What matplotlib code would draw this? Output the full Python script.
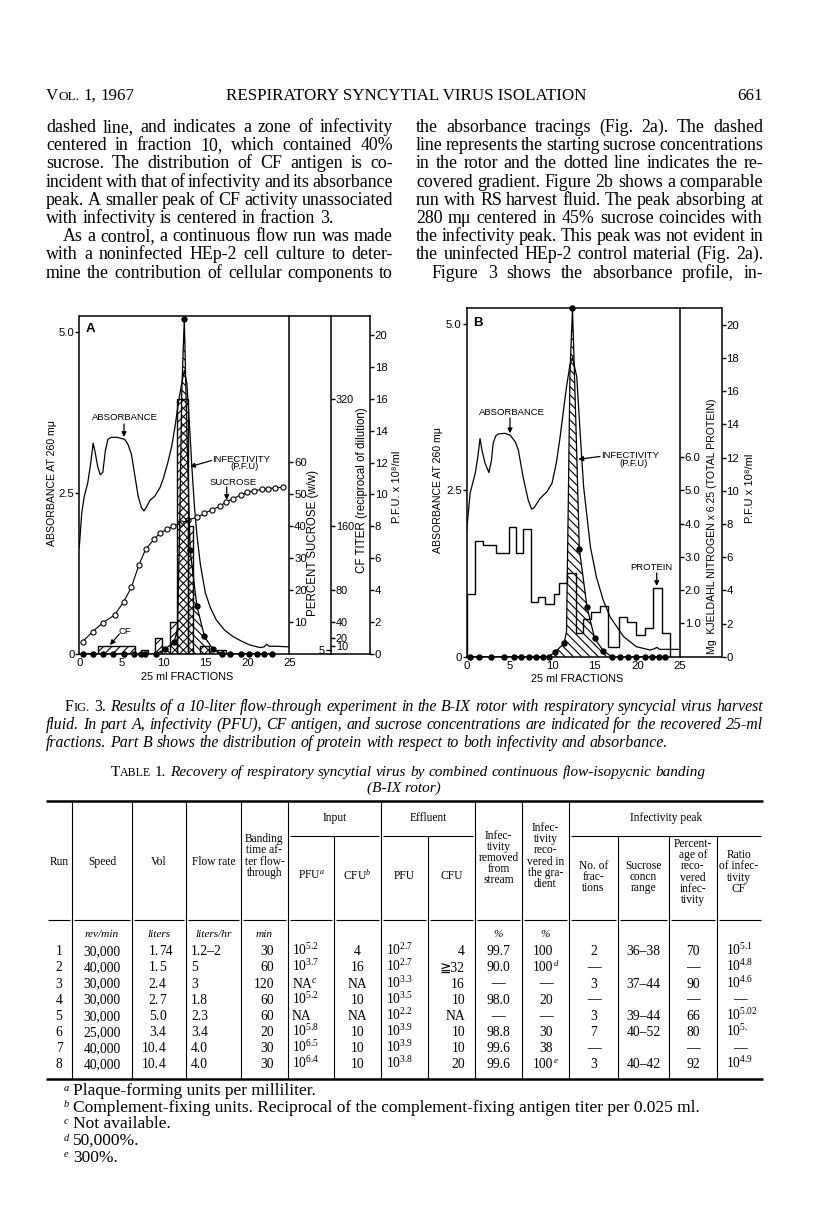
import matplotlib
matplotlib.use('Agg')
import matplotlib.pyplot as plt
from matplotlib.lines import Line2D

plt.rcParams['font.family'] = ['Liberation Serif', 'DejaVu Serif', 'DejaVu Sans', 'Noto Sans CJK JP']
plt.rcParams['mathtext.fontset'] = 'custom'
plt.rcParams['mathtext.rm'] = 'Liberation Serif'
plt.rcParams['mathtext.it'] = 'Liberation Serif:italic'
plt.rcParams['mathtext.bf'] = 'Liberation Serif:bold'
plt.rcParams['hatch.linewidth'] = 0.8
SERIF = ['Liberation Serif', 'DejaVu Serif', 'DejaVu Sans', 'Noto Sans CJK JP']
SANS = ['Liberation Sans', 'DejaVu Sans']

# ======================= DATA =======================
frac_ticks = [0, 5, 10, 15, 20, 25]
abs_ticks = [0, 2.5, 5.0]
abs_ticklabels = ['0', '2.5', '5.0']
pfu_ticks = [0, 2, 4, 6, 8, 10, 12, 14, 16, 18, 20]
sucrose_ticks = [10, 20, 30, 40, 50, 60]
cf_ticks = [10, 20, 40, 80, 160, 320]
protein_ticks = [1.0, 2.0, 3.0, 4.0, 5.0, 6.0]
protein_ticklabels = ['1.0', '2.0', '3.0', '4.0', '5.0', '6.0']

# ---- Panel A ----
absA_x = [0, 0.3, 0.6, 1.0, 1.35, 1.65, 1.9, 2.2, 2.5, 2.8, 3.1, 3.4, 3.8, 4.5, 5.4, 5.8,
          6.2, 6.6, 7.0, 7.4, 7.7, 8.0, 8.4, 9.0, 9.6, 10.0, 10.5, 11.0, 11.4, 11.8, 12.2,
          12.5, 12.8, 13.1, 13.4, 13.7, 14.0, 14.4, 15.0, 15.6, 16.3, 17.3, 18.3, 19.3,
          20.3, 21.5, 22.0, 22.3, 22.6, 23.5, 25.0]
absA_y = [1.66, 2.2, 2.45, 2.65, 2.95, 3.27, 3.12, 2.9, 2.78, 2.82, 3.15, 3.33, 3.36, 3.36,
          3.33, 3.25, 3.1, 2.78, 2.45, 2.27, 2.22, 2.28, 2.38, 2.45, 2.58, 2.72, 2.95, 3.22,
          3.53, 3.9, 4.2, 4.4, 4.2, 3.6, 2.9, 2.3, 1.85, 1.4, 0.95, 0.72, 0.53, 0.37, 0.27,
          0.2, 0.14, 0.1, 0.11, 0.15, 0.12, 0.12, 0.11]

sucA_x = [0.4, 1.6, 2.8, 4.2, 5.3, 6.2, 7.1, 7.9, 8.9, 9.6, 10.4, 11.2, 12.1, 13.0, 14.0,
          14.9, 15.8, 16.7, 17.5, 18.3, 19.2, 20.0, 20.8, 21.7, 22.5, 23.3, 24.2]
sucA_y = [3.9, 7.0, 9.8, 12.2, 16.4, 20.9, 27.9, 32.8, 35.9, 37.8, 39.0, 40.1, 40.9, 42.0,
          42.8, 44.0, 45.2, 46.2, 47.6, 48.6, 49.8, 50.6, 51.1, 51.5, 51.8, 52.0, 52.2]

infA_line_x = [0.4, 1.6, 2.8, 4.0, 5.3, 6.5, 7.3, 7.8, 9.1, 10.2, 11.3, 11.7, 11.95, 12.2,
               12.5, 12.85, 13.2, 14.0, 14.9, 15.9, 17.0, 18.0, 19.2, 20.2, 21.2, 22.0, 23.0]
infA_line_y = [0, 0, 0, 0, 0, 0, 0, 0, 0, 0.3, 0.77, 1.6, 8.0, 16.5,
               21.0, 13.0, 6.5, 3.0, 1.1, 0.3, 0, 0, 0, 0, 0, 0, 0]
infA_dot_x = [0.4, 1.6, 2.8, 4.0, 5.3, 6.5, 7.3, 7.8, 9.1, 10.2, 11.3, 12.5, 13.2, 14.0,
              14.9, 15.9, 17.0, 18.0, 19.2, 20.2, 21.2, 22.0, 23.0]
infA_dot_y = [0, 0, 0, 0, 0, 0, 0, 0, 0, 0.3, 0.77, 21.0, 6.5, 3.0,
              1.1, 0.3, 0, 0, 0, 0, 0, 0, 0]

cfA_left = [2.2, 7.4, 9.0, 10.8, 11.6, 13.0, 14.4, 16.4]
cfA_width = [4.4, 0.8, 0.9, 0.8, 1.4, 0.5, 1.0, 1.1]
cfA_titer = [10, 5, 20, 40, 320, 160, 10, 5]

# ---- Panel B ----
absB_x = [0, 0.4, 1.0, 1.3, 1.56, 1.8, 2.15, 2.6, 2.9, 3.1, 3.4, 3.7, 4.5, 5.1, 5.7, 6.05,
          6.6, 7.2, 7.6, 7.9, 8.6, 9.4, 10.0, 10.5, 10.9, 11.3, 11.7, 12.1, 12.4, 12.9,
          13.3, 13.7, 14.5, 15.2, 16.0, 16.8, 18.4, 19.9, 21.5, 22.0, 22.3, 22.6, 23.0, 25.0]
absB_y = [1.9, 2.46, 2.76, 3.0, 3.28, 3.1, 2.91, 2.77, 2.95, 3.21, 3.32, 3.35, 3.36, 3.33,
          3.23, 3.11, 2.71, 2.36, 2.22, 2.24, 2.38, 2.48, 2.61, 2.91, 3.26, 3.66, 4.06, 4.39,
          4.5, 4.21, 3.36, 2.56, 1.65, 1.2, 0.85, 0.6, 0.3, 0.15, 0.1, 0.12, 0.14, 0.11,
          0.11, 0.11]

infB_line_x = [0.4, 1.5, 2.9, 4.4, 5.5, 6.4, 7.3, 8.1, 8.9, 9.6, 10.4, 11.4, 11.7, 11.9,
               12.1, 12.4, 12.8, 13.2, 14.1, 15.0, 16.0, 17.0, 18.0, 18.9, 19.9, 20.9,
               21.7, 22.5, 23.2]
infB_line_y = [0, 0, 0, 0, 0, 0, 0, 0, 0, 0, 0.3, 0.8, 1.5, 9.0,
               17.0, 21.0, 14.0, 6.5, 3.0, 1.1, 0.36, 0, 0, 0, 0, 0,
               0, 0, 0]
infB_dot_x = [0.4, 1.5, 2.9, 4.4, 5.5, 6.4, 7.3, 8.1, 8.9, 9.6, 10.4, 11.4, 12.4, 13.2,
              14.1, 15.0, 16.0, 17.0, 18.0, 18.9, 19.9, 20.9, 21.7, 22.5, 23.2]
infB_dot_y = [0, 0, 0, 0, 0, 0, 0, 0, 0, 0, 0.3, 0.8, 21.0, 6.5,
              3.0, 1.1, 0.36, 0, 0, 0, 0, 0, 0, 0, 0]

protB_edges = [0, 1.0, 1.95, 3.4, 4.9, 5.8, 6.6, 7.5, 8.4, 9.2, 10.2, 10.8, 11.8, 12.8,
               13.6, 14.6, 15.6, 16.6, 17.9, 18.8, 19.8, 20.9, 21.8, 22.9, 23.8]
protB_values = [1.9, 3.49, 3.36, 3.13, 3.91, 3.13, 3.85, 1.65, 1.8, 1.6, 1.89, 2.23, 2.51,
                0.72, 1.12, 1.35, 1.52, 0.3, 1.18, 1.05, 0.65, 0.85, 2.06, 0.72]

# ---- Table 1 ----
t_run = ['1', '2', '3', '4', '5', '6', '7', '8']
t_speed = ['30,000', '40,000', '30,000', '30,000', '30,000', '25,000', '40,000', '40,000']
t_vol = ['1.74', '1.5', '2.4', '2.7', '5.0', '3.4', '10.4', '10.4']
t_flow = ['1.2–2', '5', '3', '1.8', '2.3', '3.4', '4.0', '4.0']
t_band = ['30', '60', '120', '60', '60', '20', '30', '30']
t_in_pfu = ['10$^{5.2}$', '10$^{3.7}$', 'NA$^{c}$', '10$^{5.2}$', 'NA', '10$^{5.8}$',
            '10$^{6.5}$', '10$^{6.4}$']
t_in_cfu = ['4', '16', 'NA', '10', 'NA', '10', '10', '10']
t_ef_pfu = ['10$^{2.7}$', '10$^{2.7}$', '10$^{3.3}$', '10$^{3.5}$', '10$^{2.2}$',
            '10$^{3.9}$', '10$^{3.9}$', '10$^{3.8}$']
t_ef_cfu = ['4', '≧32', '16', '10', 'NA', '10', '10', '20']
t_removed = ['99.7', '90.0', '—', '98.0', '—', '98.8', '99.6', '99.6']
t_recovered = ['100', '100', '—', '20', '—', '30', '38', '100']
t_recovered_note = ['', 'd', '', '', '', '', '', 'e']
t_nfrac = ['2', '—', '3', '—', '3', '7', '—', '3']
t_sucrose = ['36–38', '', '37–44', '', '39–44', '40–52', '', '40–42']
t_percent = ['70', '—', '90', '—', '66', '80', '—', '92']
t_ratio = ['10$^{5.1}$', '10$^{4.8}$', '10$^{4.6}$', '—', '10$^{5.02}$', '10$^{5.}$', '—',
           '10$^{4.9}$']

left_col = [
    "dashed line, and indicates a zone of infectivity",
    "centered in fraction 10, which contained 40%",
    "sucrose. The distribution of CF antigen is co-",
    "incident with that of infectivity and its absorbance",
    "peak. A smaller peak of CF activity unassociated",
    "with infectivity is centered in fraction 3.",
    "As a control, a continuous flow run was made",
    "with a noninfected HEp-2 cell culture to deter-",
    "mine the contribution of cellular components to",
]
right_col = [
    "the absorbance tracings (Fig. 2a). The dashed",
    "line represents the starting sucrose concentrations",
    "in the rotor and the dotted line indicates the re-",
    "covered gradient. Figure 2b shows a comparable",
    "run with RS harvest fluid. The peak absorbing at",
    "280 mμ centered in 45% sucrose coincides with",
    "the infectivity peak. This peak was not evident in",
    "the uninfected HEp-2 control material (Fig. 2a).",
    "Figure 3 shows the absorbance profile, in-",
]
caption = [
    "Results of a 10-liter flow-through experiment in the B-IX rotor with respiratory syncycial virus harvest",
    "fluid. In part A, infectivity (PFU), CF antigen, and sucrose concentrations are indicated for the recovered 25-ml",
    "fractions. Part B shows the distribution of protein with respect to both infectivity and absorbance.",
]
footnotes = [
    ('a', "Plaque-forming units per milliliter."),
    ('b', "Complement-fixing units. Reciprocal of the complement-fixing antigen titer per 0.025 ml."),
    ('c', "Not available."),
    ('d', "50,000%."),
    ('e', "300%."),
]

# ======================= FIGURE =======================
W, H = 816, 1225
fig = plt.figure(figsize=(W / 100, H / 100), dpi=100)
fig.patch.set_facecolor('white')
R = fig.canvas.get_renderer()


def fy(y):
    return 1 - y / H


def T(x, y, s, **kw):
    kw.setdefault('va', 'baseline')
    return fig.text(x / W, fy(y), s, **kw)


def tw(t):
    return t.get_window_extent(R).width


def measure(s, **kw):
    t = fig.text(0, 0, s, **kw)
    w = tw(t)
    t.remove()
    return w


def space_width(kw):
    return measure('n n', **kw) - measure('nn', **kw)


def make_group(w, base_kw):
    if isinstance(w, str):
        w = [(w, {})]
    out = []
    for s, kw in w:
        k = dict(base_kw)
        k.update(kw)
        out.append(fig.text(0, 0, s, ha='left', va='baseline', **k))
    return out


def place_line(words, x0, y, base_kw, x1=None, center=None):
    groups = [make_group(w, base_kw) for w in words]
    widths = [sum(tw(t) for t in g) for g in groups]
    if x1 is not None and len(groups) > 1:
        gap = (x1 - x0 - sum(widths)) / (len(groups) - 1)
    else:
        gap = space_width(base_kw)
    total = sum(widths) + gap * (len(groups) - 1)
    if center is not None:
        x0 = center - total / 2
    x = x0
    for g, w in zip(groups, widths):
        xx = x
        for t in g:
            t.set_position((xx / W, fy(y)))
            xx += tw(t)
        x += w + gap


def hline(x0, x1, y, lw=1.0):
    fig.add_artist(Line2D([x0 / W, x1 / W], [fy(y)] * 2, color='k', lw=lw,
                          solid_capstyle='butt'))


def vline(x, y0, y1, lw=1.0):
    fig.add_artist(Line2D([x / W] * 2, [fy(y0), fy(y1)], color='k', lw=lw,
                          solid_capstyle='butt'))


def arrow(x0, y0, x1, y1):
    fig.add_artist(matplotlib.patches.FancyArrowPatch(
        (x0 / W, fy(y0)), (x1 / W, fy(y1)), transform=fig.transFigure,
        arrowstyle='-|>', mutation_scale=7, lw=0.9, color='k',
        shrinkA=0, shrinkB=0))


# ---------------- running head + body text ----------------
hs = 10.5 * 362 / measure('RESPIRATORY SYNCYTIAL VIRUS ISOLATION', size=10.5, family=SERIF)
base = dict(family=SERIF, size=hs)
place_line([[('V', {}), ('OL.', {'size': hs * 0.78})], '1,', '1967'], 46, 100, base)
T(406, 100, 'RESPIRATORY SYNCYTIAL VIRUS ISOLATION', ha='center', family=SERIF, size=hs)
T(763, 100, '661', ha='right', family=SERIF, size=hs)

bs = 10.5 * 286 / measure(left_col[5], size=10.5, family=SERIF)
for col, (c0, c1) in ((left_col, (46, 393)), (right_col, (416, 763))):
    for ln in col:
        n = len(ln.split())
        nat = measure(ln.replace(' ', ''), size=bs, family=SERIF)
        if nat > (c1 - c0) - 2.5 * (n - 1):
            bs = bs * ((c1 - c0) - 2.5 * (n - 1)) / nat
body = dict(family=SERIF, size=bs)
B0, BS = 132, 18.2
for i, ln in enumerate(left_col):
    y = B0 + BS * i
    x0 = 63 if i == 6 else 46
    if i == 5:
        place_line(ln.split(), x0, y, body)
    else:
        place_line(ln.split(), x0, y, body, x1=393)
for i, ln in enumerate(right_col):
    y = B0 + BS * i
    x0 = 432 if i == 8 else 416
    place_line(ln.split(), x0, y, body, x1=763)


# ---------------- chart helpers ----------------
def px_axes(l, r, t, b):
    return fig.add_axes([l / W, 1 - b / H, (r - l) / W, (b - t) / H])


TICK = dict(family=SANS, size=8.2)


def style_main(ax, top):
    ax.set_xlim(0, 25)
    ax.set_ylim(0, top)
    ax.patch.set_visible(False)
    ax.spines['top'].set_visible(False)
    ax.spines['right'].set_visible(False)
    for s in ('left', 'bottom'):
        ax.spines[s].set_linewidth(1.1)
    ax.set_xticks(frac_ticks)
    ax.set_xticklabels([str(v) for v in frac_ticks], fontdict=TICK)
    ax.tick_params(axis='x', length=0, pad=3)
    ax.set_yticks(abs_ticks)
    ax.set_yticklabels(abs_ticklabels, fontdict=TICK)
    ax.tick_params(axis='y', length=3, width=1, pad=0.5)


def style_twin(t, pos, top, ticks, labels, size=8.2):
    for s in ('left', 'top', 'bottom'):
        t.spines[s].set_visible(False)
    t.spines['right'].set_position(('axes', pos))
    t.spines['right'].set_linewidth(1.1)
    t.set_ylim(0, top)
    t.set_yticks(ticks)
    t.set_yticklabels(labels, fontdict=dict(family=SANS, size=size))
    t.tick_params(axis='y', length=3, width=1, pad=0.5)


DOT = 3.6

# ---------------- Panel A ----------------
aL, aR, aT, aB = 79.3, 289.3, 315.7, 654.0
axA = px_axes(aL, aR, aT, aB)
style_main(axA, 5.247)
axA.plot(absA_x, absA_y, color='k', lw=0.9)

sucA = axA.twinx()
style_twin(sucA, 1.0, 105.9, sucrose_ticks, [str(v) for v in sucrose_ticks])
sucA.plot(sucA_x, sucA_y, '-o', color='k', lw=0.8, ms=3.7, mfc='white', mew=0.8)

cfA = axA.twinx()
style_twin(cfA, (331.0 - aL) / (aR - aL), 424.0, cf_ticks, [str(v) for v in cf_ticks], size=7.8)
cfA.bar(cfA_left, cfA_titer, width=cfA_width, align='edge', facecolor='none',
        edgecolor='k', hatch='////', linewidth=1.0)

pfuA = axA.twinx()
style_twin(pfuA, (370.0 - aL) / (aR - aL), 21.2, pfu_ticks, [str(v) for v in pfu_ticks])
pfuA.fill_between(infA_line_x, infA_line_y, 0, facecolor='none', edgecolor='k',
                  hatch='\\\\\\\\', linewidth=0)
pfuA.plot(infA_line_x, infA_line_y, color='k', lw=0.9)
pfuA.plot(infA_dot_x, infA_dot_y, 'o', color='k', ms=DOT, clip_on=False)

hline(aL - 0.5, 370.5, aT, lw=1.1)
hline(aR, 370.5, aB, lw=1.1)
T(325, 650 + 3.5, '5', ha='right', family=SANS, size=7.8)
hline(326, 331, 650, lw=1.0)

T(51.7, 483, 'ABSORBANCE AT 260 mμ', rotation=90, ha='center', va='center', family=SANS, size=7.6)
T(313.3, 542.7, 'PERCENT SUCROSE (w/w)', rotation=90, ha='center', va='center', family=SANS, size=8.3)
T(361.7, 490, 'CF TITER (reciprocal of dilution)', rotation=90, ha='center', va='center',
  family=SANS, size=8.3)
T(396.7, 487, 'P.F.U. x 10⁸/ml', rotation=90, ha='center', va='center', family=SANS, size=8.0)
T(186.7, 680.5, '25 ml FRACTIONS', ha='center', family=SANS, size=7.8)
T(90.3, 331.5, 'A', ha='center', family=SANS, size=9.5, weight='bold')

ann = dict(family=SANS, size=6.8)
T(125, 420.5, 'ABSORBANCE', ha='center', **ann)
arrow(124, 424, 124, 437)
T(212.3, 461.5, 'INFECTIVITY', ha='left', **ann)
T(245, 469.5, '(P.F.U)', ha='center', **ann)
arrow(211.5, 460.5, 190, 466.7)
T(233.3, 485, 'SUCROSE', ha='center', **ann)
arrow(226.7, 487, 226.7, 500)
T(125, 633.5, 'CF', ha='center', **ann)
arrow(119.3, 634, 110, 645)

# ---------------- Panel B ----------------
bL, bR, bT, bB = 466.7, 680.0, 308.3, 656.7
axB = px_axes(bL, bR, bT, bB)
style_main(axB, 5.24)
axB.plot(absB_x, absB_y, color='k', lw=0.9)

protB = axB.twinx()
style_twin(protB, 1.0, 10.48, protein_ticks, protein_ticklabels)
protB.stairs(protB_values, protB_edges, baseline=0, color='k', lw=1.0)

pfuB = axB.twinx()
style_twin(pfuB, (721.7 - bL) / (bR - bL), 21.0, pfu_ticks, [str(v) for v in pfu_ticks])
pfuB.fill_between(infB_line_x, infB_line_y, 0, facecolor='none', edgecolor='k',
                  hatch='\\\\\\\\', linewidth=0)
pfuB.plot(infB_line_x, infB_line_y, color='k', lw=0.9)
pfuB.plot(infB_dot_x, infB_dot_y, 'o', color='k', ms=DOT, clip_on=False)

hline(bL - 0.5, 722.2, bT, lw=1.1)
hline(bR, 722.2, bB, lw=1.1)

T(438.3, 490, 'ABSORBANCE AT 260 mμ', rotation=90, ha='center', va='center', family=SANS, size=7.6)
T(711.7, 526.7, 'Mg  KJELDAHL NITROGEN x 6.25 (TOTAL PROTEIN)', rotation=90, ha='center',
  va='center', family=SANS, size=7.6)
T(750, 488.3, 'P.F.U x 10⁸/ml', rotation=90, ha='center', va='center', family=SANS, size=8.0)
T(576.7, 682, '25 ml FRACTIONS', ha='center', family=SANS, size=7.8)
T(478.3, 326, 'B', ha='center', family=SANS, size=9.5, weight='bold')

T(511.7, 414.5, 'ABSORBANCE', ha='center', **ann)
arrow(510, 418, 510, 433.3)
T(600.7, 457.5, 'INFECTIVITY', ha='left', **ann)
T(633.3, 466, '(P.F.U)', ha='center', **ann)
arrow(600, 456.5, 578.3, 459.3)
T(651.7, 570, 'PROTEIN', ha='center', **ann)
arrow(656.7, 573, 656.7, 586)

# ---------------- Figure caption ----------------
cs = 10.5 * 626 / measure(caption[2], size=10.5, family=SERIF, style='italic')
cap_kw = dict(family=SERIF, size=cs, style='italic')
up = {'style': 'normal'}
words1 = [[('F', up), ('IG.', {'style': 'normal', 'size': cs * 0.78})], [('3.', up)]] + caption[0].split()
place_line(words1, 65, 711, cap_kw, x1=763)
place_line(caption[1].split(), 46, 729, cap_kw, x1=763)
place_line(caption[2].split(), 46, 747, cap_kw)

# ---------------- Table title ----------------
title_txt = "Recovery of respiratory syncytial virus by combined continuous flow-isopycnic banding"
ts = 10.5 * 540 / measure(title_txt, size=10.5, family=SERIF, style='italic')
tt_kw = dict(family=SERIF, size=ts, style='italic')
tw1 = [[('T', up), ('ABLE', {'style': 'normal', 'size': ts * 0.78})], [('1.', up)]] + title_txt.split()
place_line(tw1, 0, 776, tt_kw, center=408)
T(404, 792, '(B-IX rotor)', ha='center', **tt_kw)

# ---------------- Table ----------------
TL, TR = 46, 763
y_top, y_sub, y_hdr, y_bot = 801, 836, 920, 1079
full_cols = [72, 132, 186, 241, 288, 381, 475, 522, 569]
sub_cols = [334, 428, 618, 669, 717]
hline(TL, TR, y_top, lw=1.8)
hline(TL, TR, y_bot, lw=1.8)
for x in full_cols:
    vline(x, y_top, y_bot, lw=0.8)
for x in sub_cols:
    vline(x, y_sub, y_bot, lw=0.8)
for a, b in ((288, 381), (381, 475), (569, TR)):
    hline(a + 2, b - 2, y_sub, lw=0.8)
bounds = [TL] + sorted(full_cols + sub_cols) + [TR]
for a, b in zip(bounds[:-1], bounds[1:]):
    hline(a + 2, b - 2, y_hdr, lw=0.8)

hdr_kw = dict(family=SERIF, size=8.3)
T(334.5, 821, 'Input', ha='center', **hdr_kw)
T(428, 821, 'Effluent', ha='center', **hdr_kw)
T(666, 821, 'Infectivity peak', ha='center', **hdr_kw)
hdr_cells = [
    (59, 862, ['Run']),
    (102, 862, ['Speed']),
    (159, 862, ['Vol']),
    (213.5, 862, ['Flow rate']),
    (264.5, 856, ['Banding', 'time af-', 'ter flow-', 'through']),
    (311, 876, ['PFU$^{a}$']),
    (357.5, 876, ['CFU$^{b}$']),
    (404.5, 876, ['PFU']),
    (451.5, 876, ['CFU']),
    (498.5, 858, ['Infec-', 'tivity', 'removed', 'from', 'stream']),
    (545.5, 856, ['Infec-', 'tivity', 'reco-', 'vered in', 'the gra-', 'dient']),
    (593.5, 877, ['No. of', 'frac-', 'tions']),
    (643.5, 877, ['Sucrose', 'concn', 'range']),
    (693, 872, ['Percent-', 'age of', 'reco-', 'vered', 'infec-', 'tivity']),
    (739, 872, ['Ratio', 'of infec-', 'tivity', 'CF']),
]
for xc, yc, lines in hdr_cells:
    T(xc, yc, '\n'.join(lines), ha='center', va='center', multialignment='center',
      linespacing=0.9, **hdr_kw)

unit_kw = dict(family=SERIF, size=8.2, style='italic')
for xc, s in ((102, 'rev/min'), (159, 'liters'), (213.5, 'liters/hr'), (264.5, 'min'),
              (498.5, '%'), (545.5, '%')):
    T(xc, 937, s, ha='center', **unit_kw)

row_kw = dict(family=SERIF, size=9.8)
for i in range(len(t_run)):
    y = 951 + 16.1 * i + 4.3
    T(59, y, t_run[i], ha='center', **row_kw)
    T(102, y, t_speed[i], ha='center', **row_kw)
    ip, fp = t_vol[i].split('.')
    T(159, y, ip + '.', ha='right', **row_kw)
    T(159, y, fp, ha='left', **row_kw)
    T(191, y, t_flow[i], ha='left', **row_kw)
    T(274, y, t_band[i], ha='right', **row_kw)
    T(292, y, t_in_pfu[i], ha='left', **row_kw)
    T(357.5, y, t_in_cfu[i], ha='center', **row_kw)
    T(386, y, t_ef_pfu[i], ha='left', **row_kw)
    T(465, y, t_ef_cfu[i], ha='right', **row_kw)
    T(498, y, t_removed[i], ha='center', **row_kw)
    if t_recovered[i] == '—':
        T(545.5, y, t_recovered[i], ha='center', **row_kw)
    else:
        T(553, y, t_recovered[i], ha='right', **row_kw)
        if t_recovered_note[i]:
            T(554, y - 5, t_recovered_note[i], ha='left', family=SERIF, size=6.2, style='italic')
    T(593.5, y, t_nfrac[i], ha='center', **row_kw)
    T(643.5, y, t_sucrose[i], ha='center', **row_kw)
    T(693, y, t_percent[i], ha='center', **row_kw)
    if t_ratio[i] == '—':
        T(740, y, t_ratio[i], ha='center', **row_kw)
    else:
        T(726, y, t_ratio[i], ha='left', **row_kw)

fs = 10.0 * 625 / measure(footnotes[1][1], size=10.0, family=SERIF)
for i, (mark, txt) in enumerate(footnotes):
    y = 1091 + 16.6 * i + 4.3
    T(64, y - 4.5, mark, ha='left', family=SERIF, size=fs * 0.6, style='italic')
    T(73, y, txt, ha='left', family=SERIF, size=fs)

fig.savefig('out.png', dpi=100, facecolor='white')
